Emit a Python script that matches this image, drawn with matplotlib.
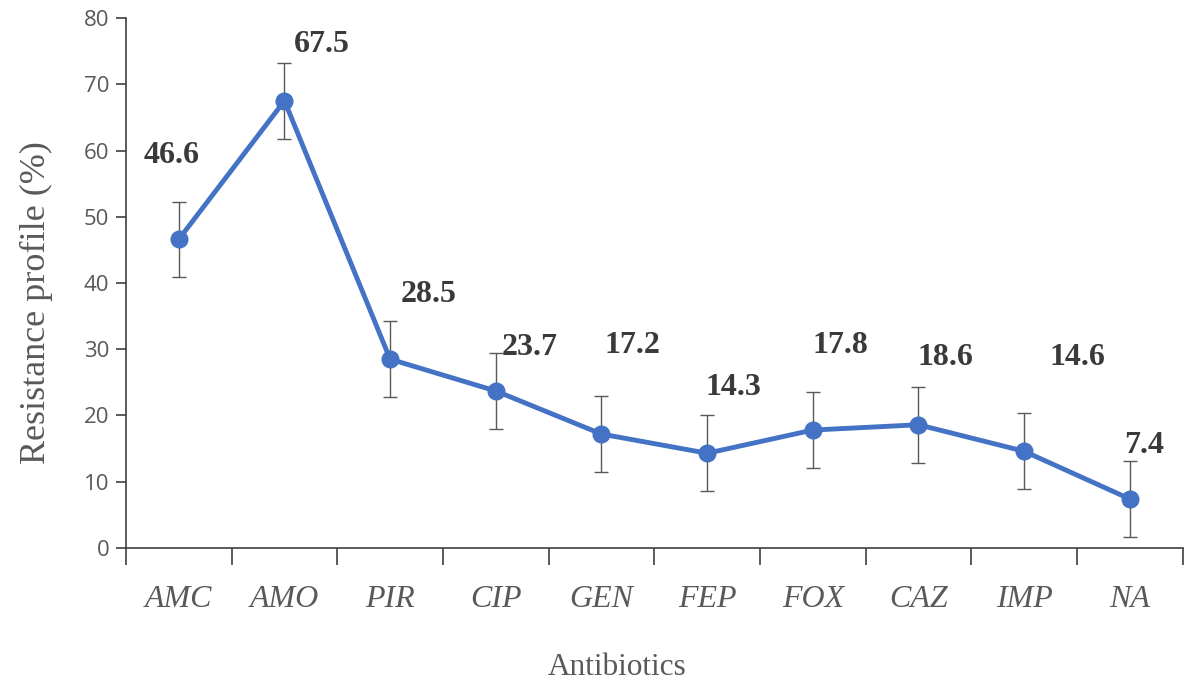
import matplotlib.pyplot as plt
import numpy as np

antibiotics = ['AMC', 'AMO', 'PIR', 'CIP', 'GEN', 'FEP', 'FOX', 'CAZ', 'IMP', 'NA']
resistance = [46.6, 67.5, 28.5, 23.7, 17.2, 14.3, 17.8, 18.6, 14.6, 7.4]
error = [5.7, 5.7, 5.7, 5.7, 5.7, 5.7, 5.7, 5.7, 5.7, 5.7]

# where each value label sits (x shift in categories, y in data units)
label_dx = [-0.07, 0.35, 0.36, 0.32, 0.29, 0.25, 0.26, 0.26, 0.5, 0.14]
label_y = [59.3, 76.0, 38.3, 30.2, 30.5, 24.2, 30.6, 28.8, 28.8, 15.5]

grey = '#595959'
blue = '#4472C4'

fig = plt.figure(figsize=(11.85, 6.83), dpi=100)
ax = fig.add_axes([0.1063, 0.1977, 0.8917, 0.7759])

x = np.arange(len(antibiotics))
ax.errorbar(x, resistance, yerr=error, fmt='none', ecolor=grey, elinewidth=1,
            capsize=5, capthick=1, zorder=2)
ax.plot(x, resistance, color=blue, lw=3.5, marker='o', ms=12, zorder=3)

for i, v in enumerate(resistance):
    ax.text(x[i] + label_dx[i], label_y[i], f'{v}', ha='center', va='center',
            fontsize=23, fontweight='bold', family='Liberation Serif', color='#3a3a3a')

ax.set_xlim(-0.5, len(antibiotics) - 0.5)
ax.set_ylim(0, 80)
ax.set_yticks(range(0, 81, 10))
ax.set_xticks(x)
ax.set_xticklabels(antibiotics, fontsize=23, style='italic', family='Liberation Serif', color=grey)
ax.set_xticks(np.arange(-0.5, len(antibiotics)), minor=True)
ax.tick_params(axis='x', which='major', length=0, pad=27)
ax.tick_params(axis='x', which='minor', length=12, width=1.2, color='#404040')
ax.tick_params(axis='y', length=7, width=1.2, color='#404040', labelsize=16, labelcolor=grey, pad=5)
for t in ax.get_yticklabels():
    t.set_family('Open Sans')

for s in ['top', 'right']:
    ax.spines[s].set_visible(False)
for s in ['left', 'bottom']:
    ax.spines[s].set_color('#404040')
    ax.spines[s].set_linewidth(1.2)

ax.set_xlabel('Antibiotics', fontsize=22.5, family='Liberation Serif', color=grey,
              labelpad=28, x=0.465)
ax.set_ylabel('Resistance profile (%)', fontsize=26, family='Liberation Serif', color=grey,
              labelpad=22, y=0.464)

fig.savefig('out.png', dpi=100)
